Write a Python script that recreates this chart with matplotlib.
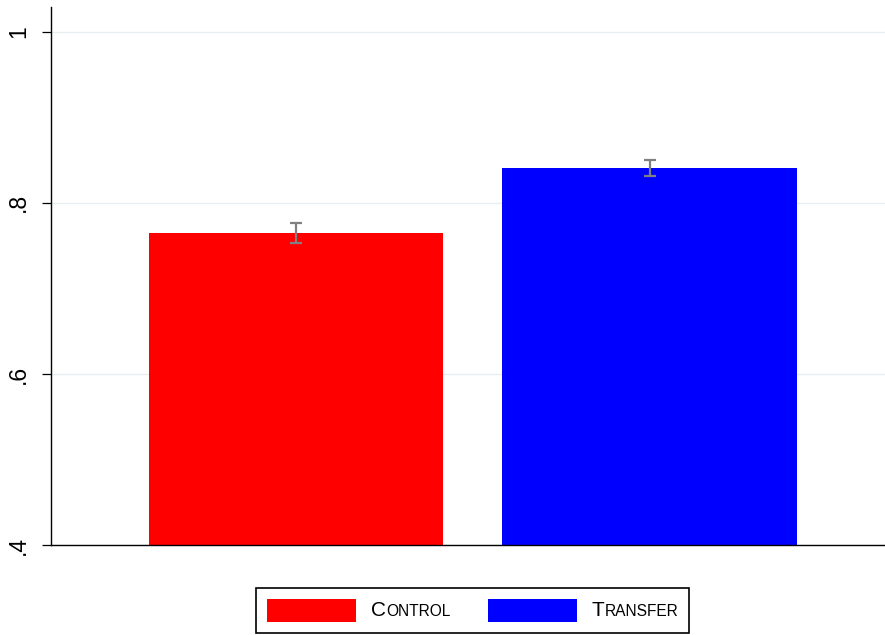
import matplotlib
matplotlib.use("Agg")
import matplotlib.pyplot as plt
from matplotlib.offsetbox import (AnchoredOffsetbox, HPacker, TextArea,
                                  DrawingArea)
from matplotlib.patches import Rectangle

plt.rcParams["font.family"] = ["Liberation Sans", "DejaVu Sans"]

# group means and standard errors
groups = ["Control", "Transfer"]
means = [0.765, 0.841]
errors = [0.0117, 0.0094]
colors = ["#ff0000", "#0000ff"]

yticks = [0.4, 0.6, 0.8, 1.0]
ytick_labels = [".4", ".6", ".8", "1"]

PX = 72.0 / 100  # points per pixel at 100 dpi

fg = plt.figure(figsize=(8.85, 6.35), dpi=100)
ax = fg.add_axes([0.0576, 0.1417, 0.9424, 0.8473])

xpos = [1, 2]
ax.bar(xpos, [m - 0.4 for m in means], bottom=0.4, width=0.832,
       color=colors, zorder=2)
ax.errorbar(xpos, means, yerr=errors, fmt="none", ecolor="#808080",
            elinewidth=1.6, capsize=4.5, capthick=1.6, zorder=3)

ax.set_xlim(0.307, 2.666)
ax.set_ylim(0.4, 1.029)
ax.set_xticks([])
ax.set_yticks(yticks)
ax.set_yticklabels(ytick_labels, rotation=90, va="center", fontsize=16.5)
ax.tick_params(axis="y", direction="out", length=9 * PX, width=0.9,
               pad=12 * PX)
ax.yaxis.grid(True, color="#e6eef0", linewidth=1.0, zorder=0)
ax.set_axisbelow(True)
for side in ["top", "right"]:
    ax.spines[side].set_visible(False)
for side in ["left", "bottom"]:
    ax.spines[side].set_linewidth(1.0)

# legend with small-caps style labels
items = []
for name, c in zip(groups, colors):
    da = DrawingArea(89 * PX, 23 * PX, 0, 0)
    da.add_artist(Rectangle((0, 0), 89 * PX, 23 * PX, facecolor=c,
                            edgecolor="none"))
    head = TextArea(name[0].upper(),
                    textprops=dict(fontsize=15, color="black"))
    tail = TextArea(name[1:].upper(),
                    textprops=dict(fontsize=11.2, color="black"))
    label = HPacker(children=[head, tail], pad=0, sep=0, align="baseline")
    items.append(HPacker(children=[da, label], pad=0, sep=15 * PX,
                         align="center"))
row = HPacker(children=items, pad=0, sep=37 * PX, align="center")
box = AnchoredOffsetbox(loc="lower center", child=row, pad=0.78,
                        borderpad=0, frameon=True,
                        bbox_to_anchor=(0.534, 0.003),
                        bbox_transform=fg.transFigure)
box.patch.set_edgecolor("black")
box.patch.set_linewidth(1.2)
box.patch.set_boxstyle("square", pad=0)
fg.add_artist(box)

fg.savefig("out.png", dpi=100)
